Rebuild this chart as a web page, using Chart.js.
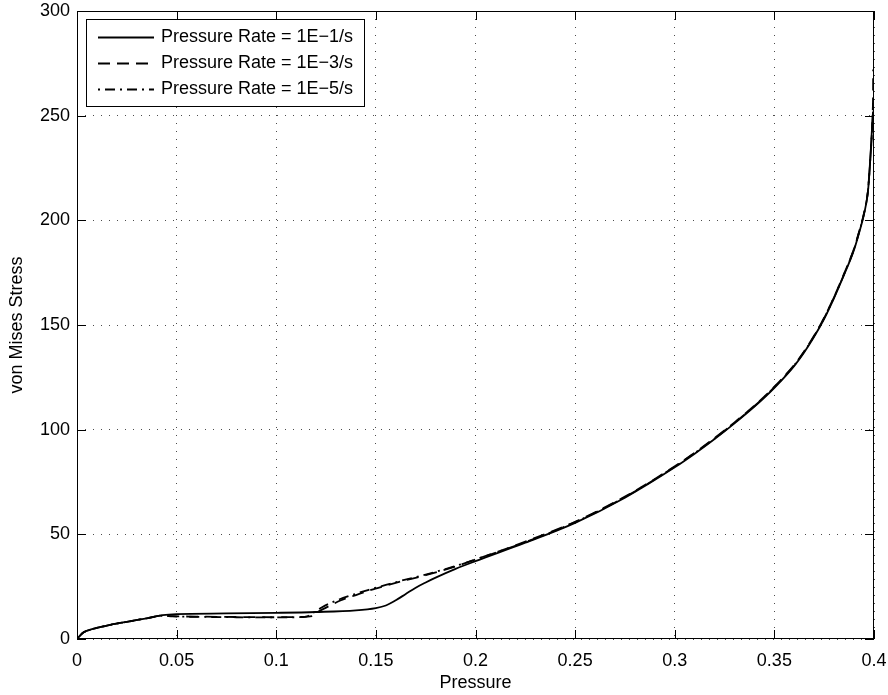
<!DOCTYPE html>
<html>
<head>
<meta charset="utf-8">
<title>von Mises Stress vs Pressure</title>
<script src="https://cdn.jsdelivr.net/npm/chart.js@4.4.1/dist/chart.umd.min.js"></script>
<style>
  html, body { margin: 0; padding: 0; background: #fff; }
  canvas { display: block; }
</style>
</head>
<body>
<canvas id="chart" width="888" height="695"></canvas>
<script>
// pressure rate 1E-1/s
var pressureA = [0, 0.003, 0.008, 0.015, 0.025, 0.035, 0.043, 0.05, 0.075, 0.1, 0.12, 0.14, 0.15, 0.155, 0.16, 0.165, 0.17, 0.175, 0.18, 0.19, 0.2, 0.225, 0.25, 0.275, 0.3, 0.31, 0.32, 0.33, 0.34, 0.35, 0.36, 0.365, 0.37, 0.375, 0.38, 0.385, 0.39, 0.3925, 0.395, 0.397, 0.398, 0.399, 0.3995];
var stressA = [0, 3, 4.8, 6.4, 8.2, 9.9, 11.4, 11.9, 12.2, 12.5, 12.9, 13.7, 14.8, 16, 18.5, 21.5, 24.5, 27, 29.3, 33.5, 37.2, 46, 55.5, 67.5, 82, 88.5, 95.5, 103, 111, 120, 130.5, 137, 144.5, 153, 163, 174, 186, 194, 203, 214, 227, 244, 252];

// pressure rate 1E-3/s
var pressureB = [0, 0.003, 0.008, 0.015, 0.025, 0.035, 0.043, 0.048, 0.06, 0.08, 0.1, 0.112, 0.118, 0.121, 0.125, 0.1325, 0.14, 0.1476, 0.155, 0.1626, 0.175, 0.1877, 0.2, 0.225, 0.25, 0.275, 0.3, 0.31, 0.32, 0.33, 0.34, 0.35, 0.36, 0.365, 0.37, 0.375, 0.38, 0.385, 0.39, 0.3925, 0.395, 0.397, 0.398, 0.399, 0.3995, 0.3996];
var stressB = [0, 3, 4.8, 6.4, 8.2, 9.9, 11.2, 10.9, 10.7, 10.5, 10.4, 10.5, 10.9, 13, 15, 18.5, 21, 23.5, 25.5, 27.5, 30.5, 34, 38, 46.5, 56, 68, 82.5, 89, 96, 103.5, 111.5, 120.5, 131, 137.5, 145, 153.5, 163.5, 174.5, 186.5, 194.5, 203.5, 214.5, 227.5, 243, 258, 272];

// pressure rate 1E-5/s
var pressureC = [0, 0.003, 0.008, 0.015, 0.025, 0.035, 0.043, 0.048, 0.06, 0.08, 0.1, 0.11, 0.115, 0.119, 0.123, 0.13, 0.138, 0.146, 0.155, 0.1626, 0.175, 0.1877, 0.2, 0.225, 0.25, 0.275, 0.3, 0.31, 0.32, 0.33, 0.34, 0.35, 0.36, 0.365, 0.37, 0.375, 0.38, 0.385, 0.39, 0.3925, 0.395, 0.397, 0.398, 0.399, 0.3995];
var stressC = [0, 3, 4.8, 6.4, 8.2, 9.9, 11.1, 10.8, 10.6, 10.4, 10.3, 10.4, 10.7, 12.8, 15.2, 18.3, 21, 23.4, 25.8, 27.8, 30.8, 34.2, 38, 46.3, 55.8, 67.8, 82.3, 88.8, 95.8, 103.3, 111.3, 120.3, 130.8, 137.3, 144.8, 153.3, 163.3, 174.3, 186.3, 194.3, 203.3, 214.3, 227.3, 243, 256];

var seriesNames = ['Pressure Rate = 1E\u22121/s', 'Pressure Rate = 1E\u22123/s', 'Pressure Rate = 1E\u22125/s'];
var xTicks = [0, 0.05, 0.1, 0.15, 0.2, 0.25, 0.3, 0.35, 0.4];
var yTicks = [0, 50, 100, 150, 200, 250, 300];

var FONT = '"Liberation Sans", Arial, Helvetica, sans-serif';
var dashes = [[], [12, 7], [2, 5, 10, 5]];

function pts(xs, ys) {
    return xs.map(function(v, i) { return { x: v, y: ys[i] }; });
}

// box around the axes, inward ticks on all four sides, and the legend
var matlabFrame = {
    id: 'matlabFrame',
    afterDraw: function(chart) {
        var ctx = chart.ctx;
        var a = chart.chartArea;
        var sx = chart.scales.x, sy = chart.scales.y;
        var tl = 9;
        ctx.save();
        ctx.strokeStyle = '#000';
        ctx.lineWidth = 1;
        ctx.setLineDash([]);
        ctx.beginPath();
        sx.ticks.forEach(function(t) {
            var p = Math.round(sx.getPixelForValue(t.value)) + 0.5;
            ctx.moveTo(p, a.bottom); ctx.lineTo(p, a.bottom - tl);
            ctx.moveTo(p, a.top); ctx.lineTo(p, a.top + tl);
        });
        sy.ticks.forEach(function(t) {
            var p = Math.round(sy.getPixelForValue(t.value)) + 0.5;
            ctx.moveTo(a.left, p); ctx.lineTo(a.left + tl, p);
            ctx.moveTo(a.right, p); ctx.lineTo(a.right - tl, p);
        });
        ctx.stroke();
        ctx.strokeRect(Math.round(a.left) + 0.5, Math.round(a.top) + 0.5,
                       Math.round(a.right - a.left) - 1, Math.round(a.bottom - a.top) - 1);

        // legend
        var lx = Math.round(a.left) + 9, ly = Math.round(a.top) + 8, lw = 278, lh = 87;
        ctx.fillStyle = '#fff';
        ctx.fillRect(lx, ly, lw, lh);
        ctx.strokeRect(lx + 0.5, ly + 0.5, lw, lh);
        ctx.font = '18px ' + FONT;
        ctx.textBaseline = 'middle';
        ctx.textAlign = 'left';
        ctx.fillStyle = '#000';
        chart.data.datasets.forEach(function(ds, i) {
            var ry = Math.round(ly + 18 + i * 26) + 0.5;
            ctx.lineWidth = ds.borderWidth;
            ctx.setLineDash(ds.borderDash);
            ctx.beginPath();
            ctx.moveTo(lx + 12, ry);
            ctx.lineTo(lx + 68, ry);
            ctx.stroke();
            ctx.fillText(ds.label, lx + 75, ry);
        });
        ctx.restore();
    }
};

var ctx = document.getElementById('chart');
var chart = new Chart(ctx, {
    type: 'scatter',
    data: {
        datasets: [
            { label: seriesNames[0], data: pts(pressureA, stressA) },
            { label: seriesNames[1], data: pts(pressureB, stressB) },
            { label: seriesNames[2], data: pts(pressureC, stressC) }
        ].map(function(ds, i) {
            ds.showLine = true;
            ds.borderColor = '#000';
            ds.backgroundColor = '#000';
            ds.borderWidth = 1.8;
            ds.borderDash = dashes[i];
            ds.pointRadius = 0;
            ds.cubicInterpolationMode = 'monotone';
            return ds;
        })
    },
    options: {
        responsive: false,
        animation: false,
        layout: { padding: { top: 11, right: 14, left: 0, bottom: 0 } },
        plugins: {
            legend: { display: false },
            tooltip: { enabled: false }
        },
        scales: {
            x: {
                type: 'linear',
                min: 0,
                max: 0.4,
                afterBuildTicks: function(s) { s.ticks = xTicks.map(function(v) { return { value: v }; }); },
                afterFit: function(s) {
                    s.height = 56;
                    s.paddingLeft = 0;
                    s.paddingRight = 0;
                },
                ticks: {
                    color: '#000',
                    padding: 11,
                    font: { family: FONT, size: 18 },
                    callback: function(v) { return String(v); }
                },
                grid: {
                    color: 'rgba(0,0,0,0.7)',
                    lineWidth: 1,
                    drawTicks: false
                },
                border: { display: false, dash: [1, 7] },
                title: {
                    display: true,
                    text: 'Pressure',
                    color: '#000',
                    font: { family: FONT, size: 18 },
                    padding: { top: 0, bottom: 1 }
                }
            },
            y: {
                type: 'linear',
                min: 0,
                max: 300,
                afterBuildTicks: function(s) { s.ticks = yTicks.map(function(v) { return { value: v }; }); },
                afterFit: function(s) {
                    s.width = 77;
                    s.paddingTop = 0;
                    s.paddingBottom = 0;
                },
                ticks: {
                    color: '#000',
                    padding: 7,
                    font: { family: FONT, size: 18 },
                    callback: function(v) { return String(v); }
                },
                grid: {
                    color: 'rgba(0,0,0,0.7)',
                    lineWidth: 1,
                    drawTicks: false
                },
                border: { display: false, dash: [1, 7] },
                title: {
                    display: true,
                    text: 'von Mises Stress',
                    color: '#000',
                    font: { family: FONT, size: 18 },
                    padding: { top: 6, bottom: 0 }
                }
            }
        }
    },
    plugins: [matlabFrame]
});
</script>
</body>
</html>
